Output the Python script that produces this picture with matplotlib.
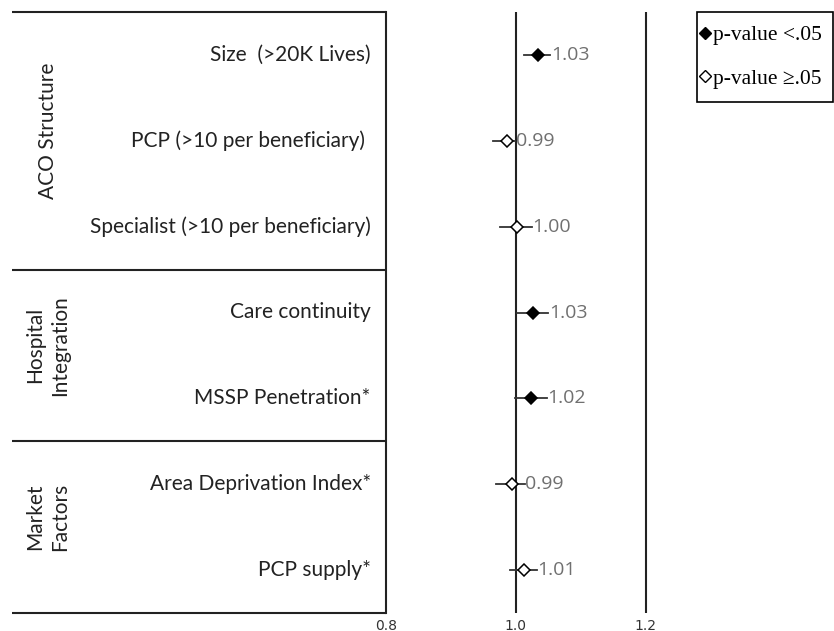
import matplotlib.pyplot as plt
from matplotlib.lines import Line2D
from matplotlib.patches import Rectangle

# odds ratios with 95% CI, one row per characteristic
row_labels = ["Size  (>20K Lives)", "PCP (>10 per beneficiary) ",
              "Specialist (>10 per beneficiary)", "Care continuity",
              "MSSP Penetration*", "Area Deprivation Index*", "PCP supply*"]
ratios = [1.034, 0.986, 1.002, 1.027, 1.024, 0.994, 1.012]
ci_low = [1.013, 0.965, 0.976, 1.002, 0.999, 0.970, 0.991]
ci_high = [1.053, 0.999, 1.025, 1.050, 1.048, 1.014, 1.032]
significant = [True, False, False, True, True, False, False]

groups = ["ACO Structure", "Hospital\nIntegration", "Market\nFactors"]
group_rows = [(0, 2), (3, 4), (5, 6)]

xticks = [0.8, 1.0, 1.2]

W, H = 834, 631
fig = plt.figure(figsize=(W / 100, H / 100), dpi=100)

top = 1 - 12 / H
bottom = 1 - 613 / H
x_left = 12 / W
x_split = 385.7 / W
x_right = 690 / W

label_font = "Lato"
line_col = "#222222"

# left panel: group boxes and row names
tab = fig.add_axes([x_left, bottom, x_split - x_left, top - bottom])
tab.set_xlim(0, 1)
tab.set_ylim(len(row_labels) - 0.5, -0.5)
tab.axis("off")
for y in [-0.5, 2.5, 4.5, 6.5]:
    tab.plot([0, 1], [y, y], color=line_col, lw=1.5, clip_on=False,
             solid_capstyle="butt")
for i, name in enumerate(row_labels):
    tab.text(0.96, i, name, ha="right", va="center", fontsize=15,
             family=label_font, color="#222222")
for name, (a, b) in zip(groups, group_rows):
    tab.text(0.095, (a + b) / 2 - 0.12, name, rotation=90, ha="center",
             va="center", fontsize=15, family=label_font, color="#222222",
             linespacing=1.3)

# right panel: forest plot
ax = fig.add_axes([x_split, bottom, x_right - x_split, top - bottom])
ax.set_xlim(0.8, 0.8 + (x_right - x_split) * W / 650)
ax.set_ylim(len(row_labels) - 0.5, -0.5)
for s in ["top", "right", "bottom"]:
    ax.spines[s].set_visible(False)
ax.spines["left"].set_linewidth(1.5)
ax.spines["left"].set_color(line_col)
ax.set_yticks([])
ax.set_xticks(xticks)
ax.set_xticklabels([f"{t:.1f}" for t in xticks], fontsize=10,
                   family="DejaVu Sans", color="#333333")
ax.tick_params(axis="x", length=0, pad=4)
for t in xticks[1:]:
    ax.axvline(t, color=line_col, lw=1.5)

for i in range(len(row_labels)):
    ax.plot([ci_low[i], ci_high[i]], [i, i], color="#333333", lw=1.3,
            zorder=3)
    face = "black" if significant[i] else "white"
    ax.plot(ratios[i], i, marker="D", ms=5.8, mfc=face, mec="black",
            mew=1.1, zorder=4)
    ax.annotate(f"{ratios[i]:.2f}", (ci_high[i], i), xytext=(0.5, 0),
                textcoords="offset points", va="center", ha="left",
                fontsize=14, family="Open Sans", color="#707070")

# key box in the top right corner
fig.patches.append(Rectangle((697 / W, 1 - 102 / H), (833 - 697) / W,
                             90 / H, transform=fig.transFigure,
                             fill=False, ec="black", lw=1.2))
handles = [
    Line2D([], [], ls="none", marker="D", ms=6, mfc="black", mec="black"),
    Line2D([], [], ls="none", marker="D", ms=6, mfc="white", mec="black"),
]
fig.legend(handles, ["p-value <.05", "p-value \u2265.05"],
           loc="center left", bbox_to_anchor=(697 / W, 1 - 57 / H),
           frameon=False, prop={"family": "Liberation Serif", "size": 15.5},
           handlelength=0.5, handletextpad=0.15, labelspacing=1.1,
           borderpad=0, borderaxespad=0.1)

fig.savefig("out.png", dpi=100)
